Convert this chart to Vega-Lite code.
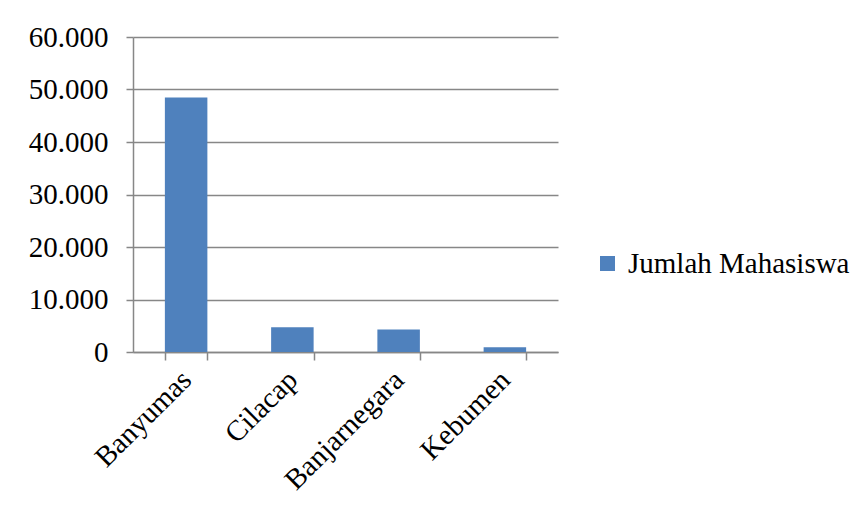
{
  "$schema": "https://vega.github.io/schema/vega-lite/v6.json",
  "autosize": "none",
  "width": 425,
  "height": 315,
  "padding": {"left": 133, "top": 37, "right": 304, "bottom": 162},
  "background": "white",
  "config": {
    "locale": {
      "number": {"decimal": ",", "thousands": ".", "grouping": [3], "currency": ["Rp", ""]}
    },
    "view": {"stroke": null},
    "font": "'Liberation Serif', 'Times New Roman', serif"
  },
  "data": {
    "values": [
      {"kabupaten": "Banyumas", "jumlah": 48500, "seri": "Jumlah Mahasiswa"},
      {"kabupaten": "Cilacap", "jumlah": 4700, "seri": "Jumlah Mahasiswa"},
      {"kabupaten": "Banjarnegara", "jumlah": 4300, "seri": "Jumlah Mahasiswa"},
      {"kabupaten": "Kebumen", "jumlah": 900, "seri": "Jumlah Mahasiswa"}
    ]
  },
  "mark": {"type": "bar", "color": "#4f81bd"},
  "encoding": {
    "x": {
      "field": "kabupaten",
      "type": "nominal",
      "sort": null,
      "title": null,
      "scale": {"paddingInner": 0.6, "paddingOuter": 0.3},
      "axis": {
        "labelAngle": -45,
        "labelAlign": "right",
        "labelBaseline": "middle",
        "labelFont": "'Liberation Serif', 'Times New Roman', serif",
        "labelFontSize": 29,
        "labelColor": "#000000",
        "labelPadding": 15,
        "tickBand": "extent",
        "tickSize": 8,
        "tickColor": "#878787",
        "tickWidth": 1.5,
        "domainColor": "#878787",
        "domainWidth": 1.5,
        "grid": false
      }
    },
    "y": {
      "field": "jumlah",
      "type": "quantitative",
      "title": null,
      "scale": {"domain": [0, 60000], "nice": false},
      "axis": {
        "values": [0, 10000, 20000, 30000, 40000, 50000, 60000],
        "format": ",d",
        "labelFont": "'Liberation Serif', 'Times New Roman', serif",
        "labelFontSize": 29,
        "labelColor": "#000000",
        "labelPadding": 18,
        "tickSize": 7,
        "tickColor": "#878787",
        "tickWidth": 1.5,
        "domainColor": "#878787",
        "domainWidth": 1.5,
        "grid": true,
        "gridColor": "#878787",
        "gridWidth": 1.5
      }
    },
    "fill": {
      "field": "seri",
      "type": "nominal",
      "title": null,
      "scale": {"range": ["#4f81bd"]},
      "legend": {
        "orient": "none",
        "legendX": 460,
        "legendY": 212,
        "padding": 0,
        "symbolType": "square",
        "symbolSize": 225,
        "symbolStrokeWidth": 0,
        "labelOffset": 6,
        "labelFont": "'Liberation Serif', 'Times New Roman', serif",
        "labelFontSize": 29,
        "labelColor": "#000000",
        "labelLimit": 400
      }
    }
  }
}
